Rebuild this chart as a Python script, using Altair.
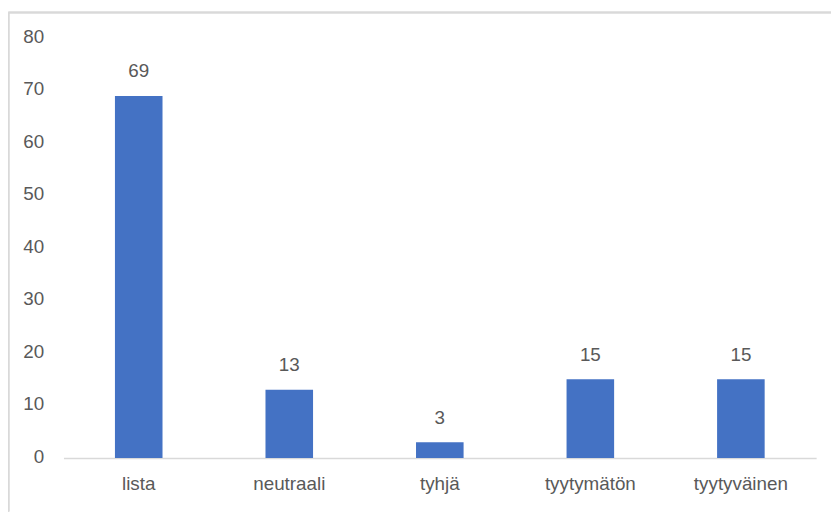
import altair as alt
import pandas as pd

categories = ["lista", "neutraali", "tyhjä", "tyytymätön", "tyytyväinen"]
values = [69, 13, 3, 15, 15]
y_ticks = [0, 10, 20, 30, 40, 50, 60, 70, 80]

df = pd.DataFrame({"kategoria": categories, "arvo": values})

FONT = "Liberation Sans"
TEXT = "#595959"
LINE = "#d9d9d9"
FS = 19

x_enc = alt.X(
    "kategoria:N",
    sort=categories,
    title=None,
    scale=alt.Scale(paddingInner=0.684),
    axis=alt.Axis(
        labelAngle=0,
        ticks=False,
        domainColor=LINE,
        domainWidth=1.5,
        labelColor=TEXT,
        labelFont=FONT,
        labelFontSize=FS,
        labelPadding=17,
    ),
)
y_enc = alt.Y(
    "arvo:Q",
    title=None,
    scale=alt.Scale(domain=[0, 80], nice=False),
    axis=alt.Axis(
        values=y_ticks,
        grid=False,
        domain=False,
        ticks=False,
        labelColor=TEXT,
        labelFont=FONT,
        labelFontSize=FS,
        labelPadding=20,
        labelOffset=-2,
    ),
)

base = alt.Chart(df)

bars = base.mark_bar(color="#4472C4").encode(x=x_enc, y=y_enc)

labels = base.mark_text(
    baseline="alphabetic",
    dy=-19,
    font=FONT,
    fontSize=FS,
    color=TEXT,
).encode(x=alt.X("kategoria:N", sort=categories), y="arvo:Q", text="arvo:Q")

border_top = base.mark_rule(color=LINE, strokeWidth=1.5).encode(
    x=alt.value(-55.5), x2=alt.value(775), y=alt.value(-26)
)
border_left = base.mark_rule(color=LINE, strokeWidth=1.5).encode(
    x=alt.value(-55.5), y=alt.value(-26), y2=alt.value(478)
)

chart = (
    alt.layer(border_top, border_left, bars, labels)
    .properties(
        width=760,
        height=424,
        padding={"left": 56, "top": 28, "right": 15, "bottom": 54},
        autosize=alt.AutoSizeParams(type="none"),
        background="white",
    )
    .configure_view(stroke=None)
)

chart.save("out.html", embed_options={"renderer": "svg", "actions": False})
